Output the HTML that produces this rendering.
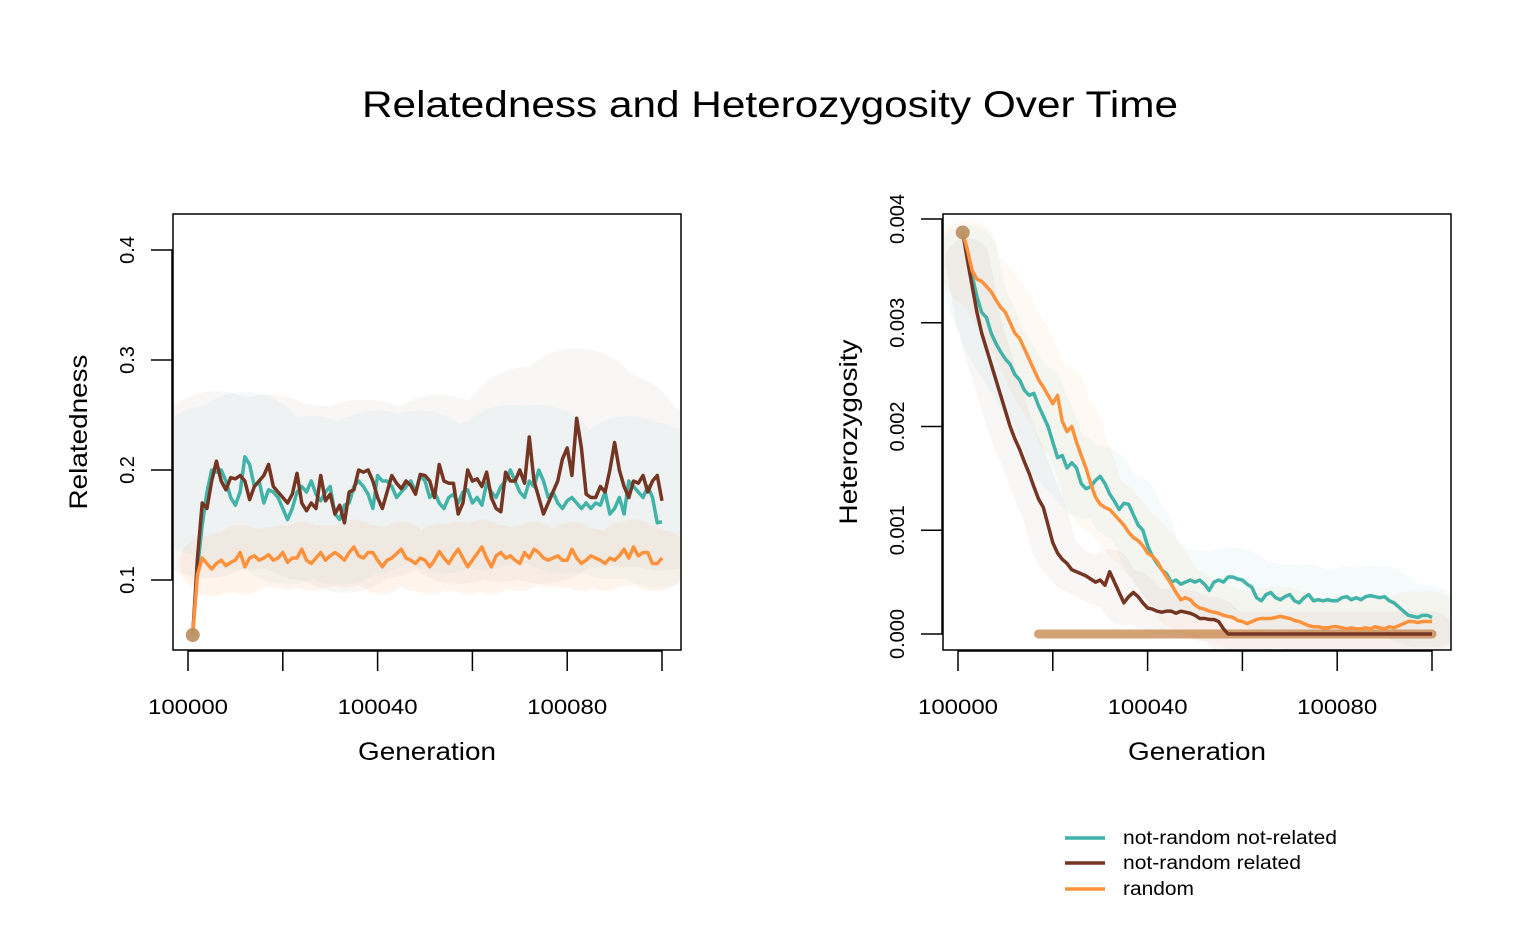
<!DOCTYPE html>
<html><head><meta charset="utf-8"><style>
html,body{margin:0;padding:0;background:#fff;}
svg{display:block;font-family:"Liberation Sans",Arial,sans-serif;}
</style></head><body>
<svg id="chart" width="1540" height="951" viewBox="0 0 1540 951" xmlns="http://www.w3.org/2000/svg">
<defs>
<clipPath id="clipL"><rect x="174" y="215" width="506" height="434"/></clipPath>
<clipPath id="clipR"><rect x="944" y="215" width="506" height="434"/></clipPath>
</defs>
<rect width="1540" height="951" fill="#fff"/>
<text x="770" y="117" font-size="37" text-anchor="middle" textLength="816" lengthAdjust="spacingAndGlyphs">Relatedness and Heterozygosity Over Time</text>
<g id="left"></g>
<g id="right"></g>
<g>
<g><line x1="1065" y1="838" x2="1105" y2="838" stroke="#41b3a8" stroke-width="3.5"/><text x="1123" y="844" font-size="19" textLength="214" lengthAdjust="spacingAndGlyphs">not-random not-related</text></g>
<g><line x1="1065" y1="863" x2="1105" y2="863" stroke="#753523" stroke-width="3.5"/><text x="1123" y="869" font-size="19" textLength="178" lengthAdjust="spacingAndGlyphs">not-random related</text></g>
<g><line x1="1065" y1="889" x2="1105" y2="889" stroke="#fd913c" stroke-width="3.5"/><text x="1123" y="895" font-size="19" textLength="71" lengthAdjust="spacingAndGlyphs">random</text></g>
</g>
</svg>
<script>
const generations = [];
for (let g = 100001; g <= 100100; g++) generations.push(g);
const xTicks = [100000, 100020, 100040, 100060, 100080, 100100];
const xTickLabels = ["100000", "", "100040", "", "100080", ""];
const relTicks = [0.1, 0.2, 0.3, 0.4];
const relTickLabels = ["0.1", "0.2", "0.3", "0.4"];
const hetTicks = [0, 1, 2, 3, 4];
const hetTickLabels = ["0.000", "0.001", "0.002", "0.003", "0.004"];

const relNotRandomNotRelated = [.05,.11,.15,.18,.2,.198,.2,.19,.175,.168,
.18,.212,.205,.185,.19,.17,.182,.18,.175,.165,
.155,.165,.18,.185,.18,.19,.178,.172,.18,.185,
.16,.155,.168,.17,.185,.19,.185,.178,.165,.195,
.19,.19,.185,.175,.18,.185,.19,.18,.195,.19,
.175,.18,.17,.165,.175,.178,.17,.18,.182,.17,
.175,.168,.188,.18,.175,.185,.19,.2,.19,.18,
.175,.19,.185,.2,.19,.175,.18,.17,.165,.172,
.175,.17,.165,.17,.165,.17,.168,.18,.16,.165,
.175,.16,.19,.185,.18,.175,.185,.175,.152,.153];
const relNotRandomRelated = [.05,.12,.17,.165,.19,.208,.19,.182,.193,.192,
.195,.19,.173,.185,.19,.195,.205,.185,.18,.175,
.17,.178,.197,.17,.163,.17,.165,.195,.172,.178,
.16,.168,.152,.18,.182,.2,.198,.2,.19,.175,
.165,.18,.195,.188,.183,.19,.186,.178,.196,.195,
.19,.175,.205,.19,.188,.188,.16,.17,.2,.19,
.192,.185,.198,.175,.165,.162,.198,.19,.19,.2,
.188,.23,.19,.175,.16,.17,.18,.19,.21,.22,
.195,.247,.22,.178,.175,.175,.185,.18,.2,.225,
.2,.185,.175,.19,.188,.195,.18,.19,.195,.172];
const relRandom = [.05,.105,.12,.115,.11,.115,.118,.113,.116,.118,
.125,.112,.12,.122,.118,.12,.123,.118,.12,.125,
.116,.12,.12,.128,.118,.115,.12,.125,.118,.122,
.125,.122,.118,.125,.13,.122,.12,.125,.125,.118,
.112,.118,.12,.124,.128,.12,.118,.115,.12,.118,
.112,.118,.126,.12,.115,.122,.128,.12,.112,.118,
.124,.13,.12,.112,.122,.125,.12,.122,.118,.115,
.125,.12,.128,.125,.12,.118,.12,.122,.118,.118,
.128,.12,.115,.118,.122,.12,.118,.115,.12,.118,
.122,.128,.12,.13,.122,.125,.125,.115,.115,.12];

// heterozygosity values in thousandths (x 0.001)
const hetNotRandomNotRelated = [3.87,3.65,3.45,3.25,3.1,3.05,2.9,2.8,2.72,2.65,
2.6,2.5,2.45,2.35,2.3,2.32,2.2,2.1,2.0,1.85,
1.7,1.72,1.6,1.65,1.6,1.45,1.4,1.42,1.48,1.52,
1.45,1.35,1.28,1.2,1.26,1.25,1.15,1.05,1.0,0.85,
0.75,0.68,0.62,0.58,0.5,0.52,0.48,0.5,0.52,0.5,
0.52,0.48,0.42,0.5,0.52,0.5,0.55,0.55,0.53,0.52,
0.48,0.45,0.35,0.32,0.38,0.4,0.35,0.33,0.36,0.38,
0.32,0.3,0.35,0.38,0.32,0.33,0.32,0.33,0.32,0.32,
0.35,0.36,0.33,0.35,0.33,0.36,0.37,0.36,0.35,0.36,
0.32,0.3,0.26,0.22,0.18,0.17,0.16,0.18,0.18,0.16];
const hetNotRandomRelated = [3.87,3.6,3.35,3.1,2.9,2.75,2.6,2.45,2.3,2.15,
2.0,1.88,1.78,1.66,1.55,1.42,1.3,1.22,1.05,0.88,
0.78,0.72,0.68,0.62,0.6,0.58,0.56,0.53,0.5,0.52,
0.47,0.6,0.5,0.4,0.3,0.36,0.4,0.36,0.3,0.25,
0.24,0.22,0.21,0.22,0.22,0.2,0.22,0.21,0.2,0.18,
0.15,0.15,0.14,0.14,0.12,0.05,0,0,0,0,
0,0,0,0,0,0,0,0,0,0,
0,0,0,0,0,0,0,0,0,0,
0,0,0,0,0,0,0,0,0,0,
0,0,0,0,0,0,0,0,0,0];
const hetRandom = [3.87,3.7,3.5,3.42,3.4,3.35,3.3,3.22,3.15,3.1,
3.0,2.9,2.85,2.75,2.65,2.55,2.45,2.38,2.3,2.22,
2.3,2.05,1.95,2.0,1.85,1.72,1.6,1.45,1.32,1.25,
1.22,1.2,1.15,1.1,1.05,0.98,0.93,0.9,0.85,0.78,
0.75,0.7,0.62,0.55,0.48,0.4,0.33,0.35,0.33,0.28,
0.25,0.24,0.22,0.21,0.2,0.18,0.17,0.16,0.13,0.12,
0.1,0.12,0.14,0.15,0.15,0.15,0.16,0.17,0.16,0.15,
0.13,0.12,0.1,0.08,0.07,0.07,0.06,0.06,0.07,0.07,
0.06,0.05,0.06,0.05,0.05,0.06,0.05,0.07,0.06,0.05,
0.07,0.06,0.08,0.1,0.12,0.12,0.11,0.12,0.12,0.12];

const NS = "http://www.w3.org/2000/svg";
const TEAL = "#41b3a8", BROWN = "#753523", ORANGE = "#fd913c";

function mk(parent, tag, attrs) {
  const el = document.createElementNS(NS, tag);
  for (const k in attrs) el.setAttribute(k, attrs[k]);
  parent.appendChild(el);
  return el;
}

function panel(gId, clip, box, xScale, yScale, yTicks, yLabels, yTitle, yTitleLen, series, hazeStart, isHet) {
  const g = document.getElementById(gId);
  const cg = mk(g, "g", {"clip-path": "url(#" + clip + ")"});
  
  
  series.forEach(s => {
    const pts = generations.slice(hazeStart).map((x, i) => xScale(x) + "," + yScale(s.vals[i + hazeStart])).join(" ");
    const h = mk(cg, "polyline", {points: pts, fill: "none", stroke: s.color, "stroke-width": s.haze, "stroke-opacity": s.hazeOp, "stroke-linejoin": "round", "stroke-linecap": "round"});
    
    
  });
  if (isHet) {
    const zl = mk(cg, "line", {x1: xScale(100017), y1: yScale(0), x2: xScale(100100), y2: yScale(0), stroke: "#c07a3a", "stroke-width": 9, "stroke-opacity": 0.7, "stroke-linecap": "round"});
    
    
  }
  series.forEach(s => {
    const pts = generations.map((x, i) => xScale(x) + "," + yScale(s.vals[i])).join(" ");
    const l = mk(cg, "polyline", {points: pts, fill: "none", stroke: s.color, "stroke-width": 3.5, "stroke-linejoin": "round"});
    
    
  });
  const st = mk(cg, "circle", {cx: xScale(generations[0]), cy: yScale(series[2].vals[0]), r: 7, fill: "#b88f5f", "fill-opacity": 0.9});
  
  
  const fr = mk(g, "rect", {x: box.x0, y: box.y0, width: box.x1 - box.x0, height: box.y1 - box.y0, fill: "none", stroke: "#000", "stroke-width": 1.5});
  
  
  const xa = mk(g, "line", {x1: xScale(xTicks[0]), y1: box.y1 + 1, x2: xScale(xTicks[xTicks.length - 1]), y2: box.y1 + 1, stroke: "#000", "stroke-width": 1.5});
  
  
  xTicks.forEach((t, i) => {
    const tk = mk(g, "line", {x1: xScale(t), y1: box.y1, x2: xScale(t), y2: box.y1 + 21, stroke: "#000", "stroke-width": 1.5});
    
    
    if (xTickLabels[i]) {
      const tl = mk(g, "text", {x: xScale(t), y: 714, "font-size": 21, "text-anchor": "middle", textLength: 80, lengthAdjust: "spacingAndGlyphs"});
      tl.textContent = xTickLabels[i];
      
      
    }
  });
  const ya = mk(g, "line", {x1: box.x0 - 1, y1: yScale(yTicks[0]), x2: box.x0 - 1, y2: yScale(yTicks[yTicks.length - 1]), stroke: "#000", "stroke-width": 1.5});
  
  
  yTicks.forEach((t, i) => {
    const y = yScale(t);
    const tk = mk(g, "line", {x1: box.x0 - 22, y1: y, x2: box.x0, y2: y, stroke: "#000", "stroke-width": 1.5});
    
    
    const cx = box.x0 - 39;
    const tl = mk(g, "text", {x: cx, y: y, "font-size": 20, "text-anchor": "middle", transform: "rotate(-90 " + cx + " " + y + ")"});
    tl.textContent = yLabels[i];
    
    
  });
  const mid = (box.y0 + box.y1) / 2;
  const yt = mk(g, "text", {x: box.x0 - 86, y: mid, "font-size": 25, "text-anchor": "middle", textLength: yTitleLen, lengthAdjust: "spacingAndGlyphs", transform: "rotate(-90 " + (box.x0 - 86) + " " + mid + ")"});
  yt.textContent = yTitle;
  
  
  const xt = mk(g, "text", {x: (box.x0 + box.x1) / 2, y: 760, "font-size": 25, "text-anchor": "middle", textLength: 138, lengthAdjust: "spacingAndGlyphs"});
  xt.textContent = "Generation";
  
  
}

const LB = {x0: 173, x1: 681, y0: 214, y1: 650};
const lx = v => 188 + (v - 100000) * (662 - 188) / 100;
const ly = v => 580 - (v - 0.1) * 1100;
panel("left", "clipL", LB, lx, ly, relTicks, relTickLabels, "Relatedness", 155, [
  {name: "not-random-not-related", vals: relNotRandomNotRelated, color: TEAL, haze: 130, hazeOp: 0.05},
  {name: "not-random-related", vals: relNotRandomRelated, color: BROWN, haze: 140, hazeOp: 0.045},
  {name: "random", vals: relRandom, color: ORANGE, haze: 55, hazeOp: 0.09}
], 3, false);

const RB = {x0: 943, x1: 1451, y0: 214, y1: 650};
const rx = v => 958 + (v - 100000) * (1432 - 958) / 100;
const ry = m => 634 - m * 103.75;
panel("right", "clipR", RB, rx, ry, hetTicks, hetTickLabels, "Heterozygosity", 185, [
  {name: "not-random-not-related", vals: hetNotRandomNotRelated, color: TEAL, haze: 60, hazeOp: 0.05},
  {name: "not-random-related", vals: hetNotRandomRelated, color: BROWN, haze: 45, hazeOp: 0.045},
  {name: "random", vals: hetRandom, color: ORANGE, haze: 60, hazeOp: 0.06}
], 1, true);
</script>
</body></html>
